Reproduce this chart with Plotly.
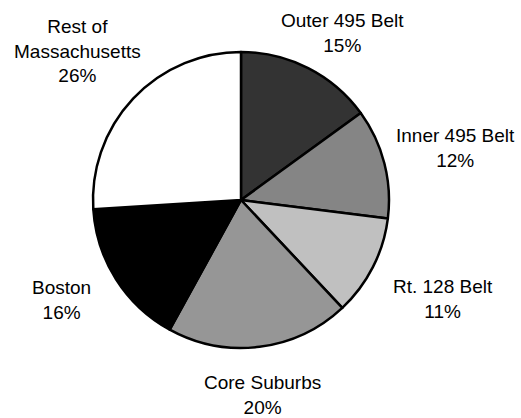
import plotly.graph_objects as go

# Regional shares, listed clockwise from 12 o'clock
regions = ["Outer 495 Belt", "Inner 495 Belt", "Rt. 128 Belt",
           "Core Suburbs", "Boston", "Rest of<br>Massachusetts"]
shares = [15, 12, 11, 20, 16, 26]
fills = ["#333333", "#858585", "#c0c0c0", "#969696", "#000000", "#ffffff"]

# Label anchor points (pixel centers in a 521x418 canvas)
W, H = 521, 418
label_xy = [(342, 33), (455, 148), (443, 299), (262, 395), (61, 300), (77, 51)]

fig = go.Figure()
cx, cy, r = 241, 200, 148
fig.add_trace(go.Pie(
    labels=regions,
    values=shares,
    sort=False,
    direction="clockwise",
    rotation=0,
    marker=dict(colors=fills, line=dict(color="#000000", width=2.5)),
    textinfo="none",
    hoverinfo="label+percent",
    showlegend=False,
    domain=dict(x=[(cx - r) / W, (cx + r) / W],
                y=[(H - cy - r) / H, (H - cy + r) / H]),
))

for name, val, (px, py) in zip(regions, shares, label_xy):
    fig.add_annotation(
        x=px / W, y=1 - py / H, xref="paper", yref="paper",
        text=f"{name}<br>{val}%", showarrow=False,
        xanchor="center", yanchor="middle", align="center",
        font=dict(family="Liberation Sans, Arial", size=19, color="#000000"),
    )

fig.update_layout(
    width=W, height=H,
    margin=dict(l=0, r=0, t=0, b=0),
    paper_bgcolor="#ffffff",
    plot_bgcolor="#ffffff",
)

fig.write_html("out.html")
